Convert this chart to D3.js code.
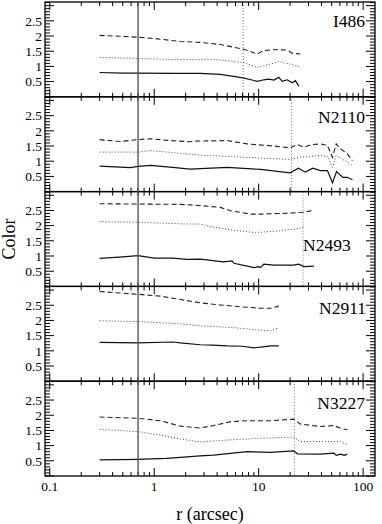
<!DOCTYPE html>
<html><head><meta charset="utf-8">
<script src="https://cdn.jsdelivr.net/npm/d3@7"></script>
<style>html,body{margin:0;padding:0;background:#fff}svg{display:block}</style>
</head><body>
<script>
// ---- data ----
const galaxies = ["I486", "N2110", "N2493", "N2911", "N3227"];
const xTickLabels = [0.1, 1, 10, 100];
const yTickLabels = [0.5, 1, 1.5, 2, 2.5];
const seeingRadius = 0.7;
const limitRadius = [7.1, 20.6, 26.6, null, 22];

const I486_dash = [[0.3,2.02],[0.5,1.99],[0.7,1.96],[1,1.92],[1.78,1.82],[2.76,1.79],[4.3,1.72],[7.1,1.57],[9.7,1.41],[11.1,1.52],[13.9,1.55],[18.8,1.54],[21,1.43],[25,1.41]];
const I486_dot = [[0.3,1.30],[0.7,1.26],[1.5,1.23],[2.76,1.22],[3.2,1.24],[4.3,1.21],[7.1,1.13],[9.7,0.97],[13,1.08],[15.5,1.16],[20,1.08],[25,0.99]];
const I486_solid = [[0.3,0.80],[0.5,0.78],[0.7,0.78],[1.5,0.77],[2.76,0.77],[4.3,0.74],[7.1,0.62],[9.7,0.51],[11.2,0.56],[12.5,0.58],[14,0.55],[15.6,0.64],[16.8,0.51],[18.8,0.56],[21,0.46],[22.5,0.53],[24.2,0.35]];

const N2110_dash = [[0.3,1.71],[0.47,1.65],[0.7,1.71],[0.92,1.74],[1.42,1.68],[2.2,1.64],[2.47,1.66],[5,1.68],[7.8,1.57],[13.9,1.50],[20,1.44],[23.4,1.55],[27,1.46],[31.4,1.54],[39,1.57],[45.6,1.52],[50.9,1.13],[55.3,1.57],[61,1.41],[70.6,1.24],[79,1.02]];
const N2110_dot = [[0.3,1.30],[0.7,1.30],[0.92,1.35],[2.76,1.20],[5,1.16],[10.4,1.10],[20,1.06],[25,1.13],[39,1.19],[45.6,1.16],[50.9,0.80],[55.3,1.19],[70.6,0.97],[79,0.86]];
const N2110_solid = [[0.3,0.84],[0.59,0.79],[0.7,0.83],[0.92,0.86],[1.59,0.79],[2.2,0.74],[5,0.80],[10.4,0.73],[20,0.62],[24,0.77],[28,0.64],[33,0.77],[39,0.69],[45.6,0.69],[50.9,0.29],[55.7,0.66],[64,0.47],[70.6,0.47],[79,0.39]];

const N2493_dash = [[0.3,2.72],[0.7,2.71],[1.78,2.70],[2.76,2.66],[4.3,2.60],[5.4,2.49],[8.3,2.38],[10.4,2.38],[20,2.41],[26.4,2.44],[33.6,2.50]];
const N2493_dot = [[0.3,2.13],[0.7,2.11],[1.78,2.06],[2.76,2.05],[3.45,1.97],[5.4,1.86],[9.3,1.77],[16,1.83],[25,1.91],[27,1.97]];
const N2493_solid = [[0.3,0.92],[0.5,0.97],[0.7,1.01],[1.0,0.93],[1.5,0.93],[2.06,0.89],[2.76,0.90],[4.6,0.81],[5.56,0.84],[5.8,0.76],[7.75,0.67],[9.0,0.62],[10,0.65],[10.4,0.62],[11.2,0.73],[14,0.70],[21.6,0.70],[24.2,0.73],[27.2,0.65],[33.8,0.67]];

const N2911_dash = [[0.3,2.95],[0.7,2.86],[1.14,2.80],[1.78,2.69],[2.76,2.58],[4.3,2.51],[6.7,2.45],[10.4,2.40],[13,2.40],[15.6,2.47]];
const N2911_dot = [[0.3,1.99],[0.7,1.96],[1.78,1.89],[2.76,1.82],[5.4,1.77],[10.4,1.68],[13,1.66],[15.6,1.76]];
const N2911_solid = [[0.3,1.28],[0.7,1.26],[1.5,1.29],[1.78,1.26],[2.76,1.20],[3.6,1.19],[5,1.16],[7,1.15],[9,1.10],[11,1.13],[13,1.16],[15.6,1.16]];

const N3227_dash = [[0.3,1.94],[0.7,1.90],[1.14,1.82],[1.78,1.64],[2.76,1.58],[3.7,1.66],[5.4,1.79],[7.75,1.82],[13,1.82],[21.7,1.87],[25,1.71],[39,1.63],[52.6,1.66],[61,1.57],[70.6,1.52]];
const N3227_dot = [[0.3,1.54],[0.7,1.46],[1.14,1.35],[1.78,1.22],[2.76,1.12],[5.4,1.19],[10,1.24],[21.7,1.28],[25,1.13],[39,1.13],[61,1.13],[70.6,1.02]];
const N3227_solid = [[0.3,0.53],[0.7,0.55],[1.3,0.58],[1.78,0.61],[2.76,0.66],[3.7,0.69],[7.75,0.80],[13,0.78],[21.7,0.83],[23.5,0.73],[39,0.72],[52.6,0.75],[55.5,0.68],[61,0.72],[66,0.68],[70.6,0.72]];

const dashSeries = [I486_dash, N2110_dash, N2493_dash, N2911_dash, N3227_dash];
const dotSeries = [I486_dot, N2110_dot, N2493_dot, N2911_dot, N3227_dot];
const solidSeries = [I486_solid, N2110_solid, N2493_solid, N2911_solid, N3227_solid];

// ---- layout ----
const W = 382, H = 524;
const left = 45, right = 375, top0 = 2, panelH = 94.8;
const font = "'Liberation Serif','Times New Roman',serif";
const labelPos = [
  {x: 365, y: 27, anchor: "end"},
  {x: 365, y: 123, anchor: "end"},
  {x: 303, y: 251, anchor: "start"},
  {x: 366, y: 314, anchor: "end"},
  {x: 365, y: 409, anchor: "end"}
];

const svg = d3.select("body").append("svg").attr("width", W).attr("height", H);
const x = d3.scaleLog().domain([0.09, 130]).range([left, right]);

const majorX = [0.1, 1, 10, 100];
const minorX = [];
for (const d of [0.1, 1, 10]) for (let k = 2; k <= 9; k++) minorX.push(d * k);
const majorY = d3.range(0, 3.01, 0.5);
const minorY = d3.range(0, 3.11, 0.1).filter(v => Math.abs(v * 2 - Math.round(v * 2)) > 1e-6);

galaxies.forEach((name, i) => {
  const t = top0 + i * panelH, b = t + panelH;
  const y = d3.scaleLinear().domain([0, 3.12]).range([b, t]);
  const g = svg.append("g");
  const line = d3.line().x(d => x(d[0])).y(d => y(d[1]));

  // limit dotted vertical
  if (limitRadius[i] != null) {
    g.append("line").attr("x1", x(limitRadius[i])).attr("x2", x(limitRadius[i]))
      .attr("y1", t).attr("y2", b).attr("stroke", "#777").attr("stroke-width", 1)
      .attr("stroke-dasharray", "1,2");
  }

  g.append("path").attr("d", line(dashSeries[i])).attr("fill", "none")
    .attr("stroke", "#222").attr("stroke-width", 1.1).attr("stroke-dasharray", "5,3");
  g.append("path").attr("d", line(dotSeries[i])).attr("fill", "none")
    .attr("stroke", "#444").attr("stroke-width", 1).attr("stroke-dasharray", "1,2");
  g.append("path").attr("d", line(solidSeries[i])).attr("fill", "none")
    .attr("stroke", "#111").attr("stroke-width", 1.2);

  // ticks
  const tk = g.append("g").attr("stroke", "#000").attr("stroke-width", 1);
  majorX.forEach(v => {
    tk.append("line").attr("x1", x(v)).attr("x2", x(v)).attr("y1", t).attr("y2", t + 8);
    tk.append("line").attr("x1", x(v)).attr("x2", x(v)).attr("y1", b).attr("y2", b - 8);
  });
  minorX.forEach(v => {
    tk.append("line").attr("x1", x(v)).attr("x2", x(v)).attr("y1", t).attr("y2", t + 4);
    tk.append("line").attr("x1", x(v)).attr("x2", x(v)).attr("y1", b).attr("y2", b - 4);
  });
  majorY.forEach(v => {
    tk.append("line").attr("x1", left).attr("x2", left + 9).attr("y1", y(v)).attr("y2", y(v));
    tk.append("line").attr("x1", right).attr("x2", right - 9).attr("y1", y(v)).attr("y2", y(v));
  });
  minorY.forEach(v => {
    tk.append("line").attr("x1", left).attr("x2", left + 5).attr("y1", y(v)).attr("y2", y(v));
    tk.append("line").attr("x1", right).attr("x2", right - 5).attr("y1", y(v)).attr("y2", y(v));
  });

  g.append("rect").attr("x", left).attr("y", t).attr("width", right - left).attr("height", panelH)
    .attr("fill", "none").attr("stroke", "#000").attr("stroke-width", 1.3);

  yTickLabels.forEach(v => {
    g.append("text").attr("x", 42).attr("y", y(v)).attr("dy", "0.35em")
      .attr("text-anchor", "end").attr("font-family", font).attr("font-size", 13.5)
      .text(v);
  });

  g.append("text").attr("x", labelPos[i].x).attr("y", labelPos[i].y)
    .attr("text-anchor", labelPos[i].anchor).attr("font-family", font).attr("font-size", 17.5)
    .text(name);
});

const bottom = top0 + 5 * panelH;
// seeing line across all panels
svg.append("line").attr("x1", x(seeingRadius)).attr("x2", x(seeingRadius))
  .attr("y1", top0).attr("y2", bottom).attr("stroke", "#555").attr("stroke-width", 1.4);

xTickLabels.forEach(v => {
  svg.append("text").attr("x", x(v)).attr("y", 491).attr("text-anchor", "middle")
    .attr("font-family", font).attr("font-size", 13.5).text(v);
});

svg.append("text").attr("x", 210).attr("y", 520).attr("text-anchor", "middle")
  .attr("font-family", font).attr("font-size", 18).text("r (arcsec)");
svg.append("text").attr("transform", "translate(15,239) rotate(-90)").attr("text-anchor", "middle")
  .attr("font-family", font).attr("font-size", 18).text("Color");
</script>
</body></html>
